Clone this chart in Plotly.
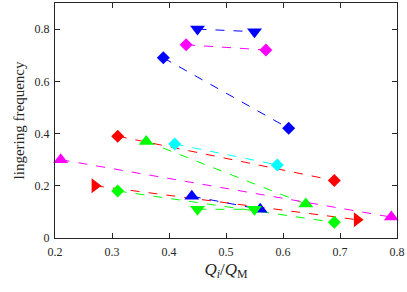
import plotly.graph_objects as go

# Each series: two points (Q_i/Q_M, lingering frequency)
series_names = ["s1", "s2", "s3", "s4", "s5", "s6", "s7", "s8", "s9", "s10", "s11"]
x_vals = [
    [0.45, 0.55],
    [0.43, 0.57],
    [0.39, 0.61],
    [0.31, 0.69],
    [0.36, 0.64],
    [0.41, 0.59],
    [0.21, 0.79],
    [0.27, 0.73],
    [0.31, 0.69],
    [0.44, 0.56],
    [0.45, 0.55],
]
y_vals = [
    [0.80, 0.79],
    [0.74, 0.72],
    [0.69, 0.42],
    [0.39, 0.22],
    [0.37, 0.13],
    [0.36, 0.28],
    [0.30, 0.08],
    [0.20, 0.07],
    [0.18, 0.06],
    [0.16, 0.11],
    [0.11, 0.11],
]
colors = ["#0000ff", "#ff00ff", "#0000ff", "#ff0000", "#00ff00", "#00ffff",
          "#ff00ff", "#ff0000", "#00ff00", "#0000ff", "#00ff00"]
symbols = ["triangle-down", "diamond", "diamond", "diamond", "triangle-up", "diamond",
           "triangle-up", "triangle-right", "diamond", "triangle-up", "triangle-down"]

x_ticks = [0.2, 0.3, 0.4, 0.5, 0.6, 0.7, 0.8]
y_ticks = [0, 0.2, 0.4, 0.6, 0.8]

fig = go.Figure()
for name, xs, ys, c, s in zip(series_names, x_vals, y_vals, colors, symbols):
    sz = 10 if s == "diamond" else 13
    fig.add_trace(go.Scatter(
        x=xs, y=ys, name=name, mode="lines+markers",
        line=dict(color=c, width=1, dash="dash"),
        marker=dict(color=c, symbol=s, size=sz, line=dict(width=0)),
        showlegend=False, cliponaxis=False,
    ))

font = "Liberation Serif, DejaVu Serif, serif"
fig.update_layout(
    width=407, height=292,
    margin=dict(l=55, r=10, t=3, b=54, autoexpand=False),
    paper_bgcolor="white", plot_bgcolor="white",
    font=dict(family=font, size=12, color="#262626"),
)
axis_common = dict(
    showline=True, linecolor="#262626", linewidth=1, mirror="ticks",
    ticks="inside", ticklen=5, tickcolor="#262626", showgrid=False, zeroline=False,
    tickfont=dict(family=font, size=12, color="#262626"), automargin=False,
)
fig.update_xaxes(range=[0.2, 0.8], tickvals=x_ticks,
                 ticktext=[f"{v:.1f}" for v in x_ticks], ticklabelstandoff=3,
                 title=dict(text="<i>Q<sub>i</sub></i>/<i>Q</i><sub>M</sub>",
                            font=dict(family=font, size=17), standoff=4),
                 **axis_common)
fig.update_yaxes(range=[0, 0.9], tickvals=y_ticks,
                 ticktext=["0", "0.2", "0.4", "0.6", "0.8"], ticklabelstandoff=2,
                 title=dict(text="lingering frequency", font=dict(family=font, size=15), standoff=6),
                 **axis_common)

fig.write_html("out.html", config={"displayModeBar": False},
               post_script="document.body.style.margin='0';document.body.style.overflow='hidden';")
